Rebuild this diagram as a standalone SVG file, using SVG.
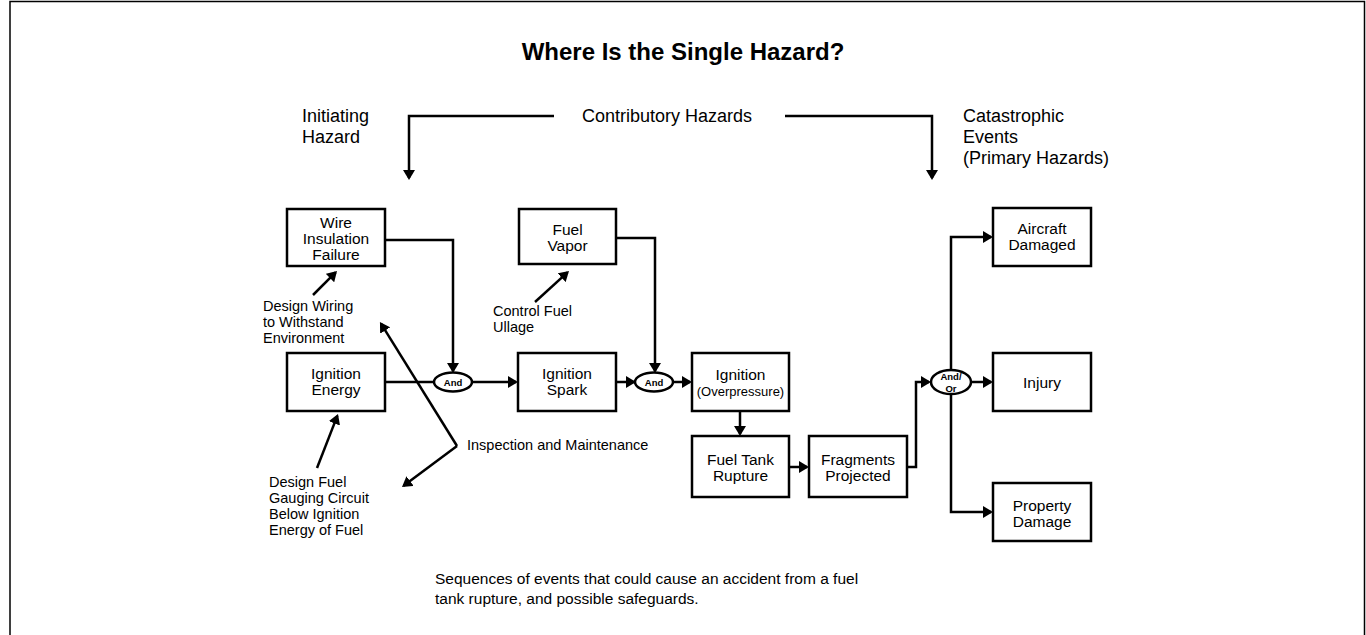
<svg xmlns="http://www.w3.org/2000/svg" width="1366" height="635" viewBox="0 0 1366 635">
  <defs>
    <marker id="arrow" markerUnits="userSpaceOnUse" markerWidth="10" markerHeight="12" refX="8" refY="6" orient="auto">
      <path d="M0,0 L10,6 L0,12 z" fill="#000"/>
    </marker>
    <style>
      text { font-family: "Liberation Sans", Arial, sans-serif; fill: #000; }
      .title { font-size: 24px; font-weight: bold; text-anchor: middle; }
      .head { font-size: 18px; }
      .box rect { fill: #fff; stroke: #000; stroke-width: 2.5; }
      .box text { font-size: 15.5px; text-anchor: middle; }
      .box text.small { font-size: 13px; }
      .gate ellipse { fill: #fff; stroke: #000; stroke-width: 2.5; }
      .gate text { font-size: 9.5px; font-weight: bold; text-anchor: middle; }
      .note { font-size: 14.5px; }
      .caption { font-size: 15.5px; }
      .conn path { fill: none; stroke: #000; stroke-width: 2.5; }
      .conn .arr { marker-end: url(#arrow); }
    </style>
  </defs>

  <rect width="1366" height="635" fill="#fff"/>
  <!-- page frame -->
  <path d="M10,636 V1.5 H1364.5 V636" fill="none" stroke="#000" stroke-width="1.5"/>

  <text class="title" x="683" y="60">Where Is the Single Hazard?</text>

  <!-- column headings -->
  <text class="head" x="302" y="122">Initiating</text>
  <text class="head" x="302" y="143">Hazard</text>
  <text class="head" x="582" y="122">Contributory Hazards</text>
  <text class="head" x="963" y="122">Catastrophic</text>
  <text class="head" x="963" y="143">Events</text>
  <text class="head" x="963" y="164">(Primary Hazards)</text>

  <!-- safeguard notes -->
  <text class="note" x="263" y="311">Design Wiring</text>
  <text class="note" x="263" y="327">to Withstand</text>
  <text class="note" x="263" y="343">Environment</text>
  <text class="note" x="493" y="316">Control Fuel</text>
  <text class="note" x="493" y="332">Ullage</text>
  <text class="note" x="467" y="450">Inspection and Maintenance</text>
  <text class="note" x="269" y="487">Design Fuel</text>
  <text class="note" x="269" y="503">Gauging Circuit</text>
  <text class="note" x="269" y="519">Below Ignition</text>
  <text class="note" x="269" y="535">Energy of Fuel</text>

  <!-- connectors -->
  <g id="connectors" class="conn">
    <path class="arr" d="M554,116 H409 V178"/>
    <path class="arr" d="M785,116 H932 V178"/>
    <path class="arr" d="M385,240 H453 V371"/>
    <path d="M385,382 H434"/>
    <path class="arr" d="M472,382 H516"/>
    <path class="arr" d="M616,238 H655 V371"/>
    <path class="arr" d="M616,382 H634"/>
    <path class="arr" d="M674,382 H690"/>
    <path class="arr" d="M740,411 V434"/>
    <path class="arr" d="M789,467 H807"/>
    <path class="arr" d="M907,467 H916 V382 H929"/>
    <path class="arr" d="M951,370 V237 H991"/>
    <path class="arr" d="M971,382 H991"/>
    <path class="arr" d="M951,394 V512 H991"/>
    <!-- safeguard pointers -->
    <path class="arr" d="M313,295 L335.6,272.4"/>
    <path class="arr" d="M535,302 L567.5,272.3"/>
    <path class="arr" d="M317,468 L337.3,415.9"/>
    <path class="arr" d="M457,446 L381,323.7"/>
    <path class="arr" d="M457,446 L403.6,485.8"/>
  </g>

  <!-- events -->
  <g id="wire-insulation-failure" class="box">
    <rect x="287" y="209" width="98" height="57"/>
    <text x="336" y="228">Wire</text>
    <text x="336" y="244">Insulation</text>
    <text x="336" y="260">Failure</text>
  </g>
  <g id="fuel-vapor" class="box">
    <rect x="519" y="209" width="97" height="55"/>
    <text x="567.5" y="235">Fuel</text>
    <text x="567.5" y="251">Vapor</text>
  </g>
  <g id="ignition-energy" class="box">
    <rect x="287" y="353" width="98" height="58"/>
    <text x="336" y="379">Ignition</text>
    <text x="336" y="395">Energy</text>
  </g>
  <g id="ignition-spark" class="box">
    <rect x="518" y="353" width="98" height="58"/>
    <text x="567" y="379">Ignition</text>
    <text x="567" y="395">Spark</text>
  </g>
  <g id="ignition-overpressure" class="box">
    <rect x="692" y="353" width="97" height="58"/>
    <text x="740.5" y="380">Ignition</text>
    <text class="small" x="740.5" y="396">(Overpressure)</text>
  </g>
  <g id="fuel-tank-rupture" class="box">
    <rect x="692" y="436" width="97" height="61"/>
    <text x="740.5" y="465">Fuel Tank</text>
    <text x="740.5" y="481">Rupture</text>
  </g>
  <g id="fragments-projected" class="box">
    <rect x="809" y="436" width="98" height="61"/>
    <text x="858" y="465">Fragments</text>
    <text x="858" y="481">Projected</text>
  </g>
  <g id="aircraft-damaged" class="box">
    <rect x="993" y="208" width="98" height="58"/>
    <text x="1042" y="234">Aircraft</text>
    <text x="1042" y="250">Damaged</text>
  </g>
  <g id="injury" class="box">
    <rect x="993" y="353" width="98" height="58"/>
    <text x="1042" y="388">Injury</text>
  </g>
  <g id="property-damage" class="box">
    <rect x="993" y="483" width="98" height="58"/>
    <text x="1042" y="511">Property</text>
    <text x="1042" y="527">Damage</text>
  </g>

  <!-- gates -->
  <g id="gate-and-1" class="gate">
    <ellipse cx="453" cy="382" rx="19" ry="9.5"/>
    <text x="453" y="385.5">And</text>
  </g>
  <g id="gate-and-2" class="gate">
    <ellipse cx="654" cy="382" rx="19" ry="9.5"/>
    <text x="654" y="385.5">And</text>
  </g>
  <g id="gate-and-or" class="gate">
    <ellipse cx="951" cy="382" rx="20" ry="12"/>
    <text x="951" y="380">And/</text>
    <text x="951" y="392">Or</text>
  </g>

  <text class="caption" x="435" y="584">Sequences of events that could cause an accident from a fuel</text>
  <text class="caption" x="435" y="604">tank rupture, and possible safeguards.</text>
</svg>
